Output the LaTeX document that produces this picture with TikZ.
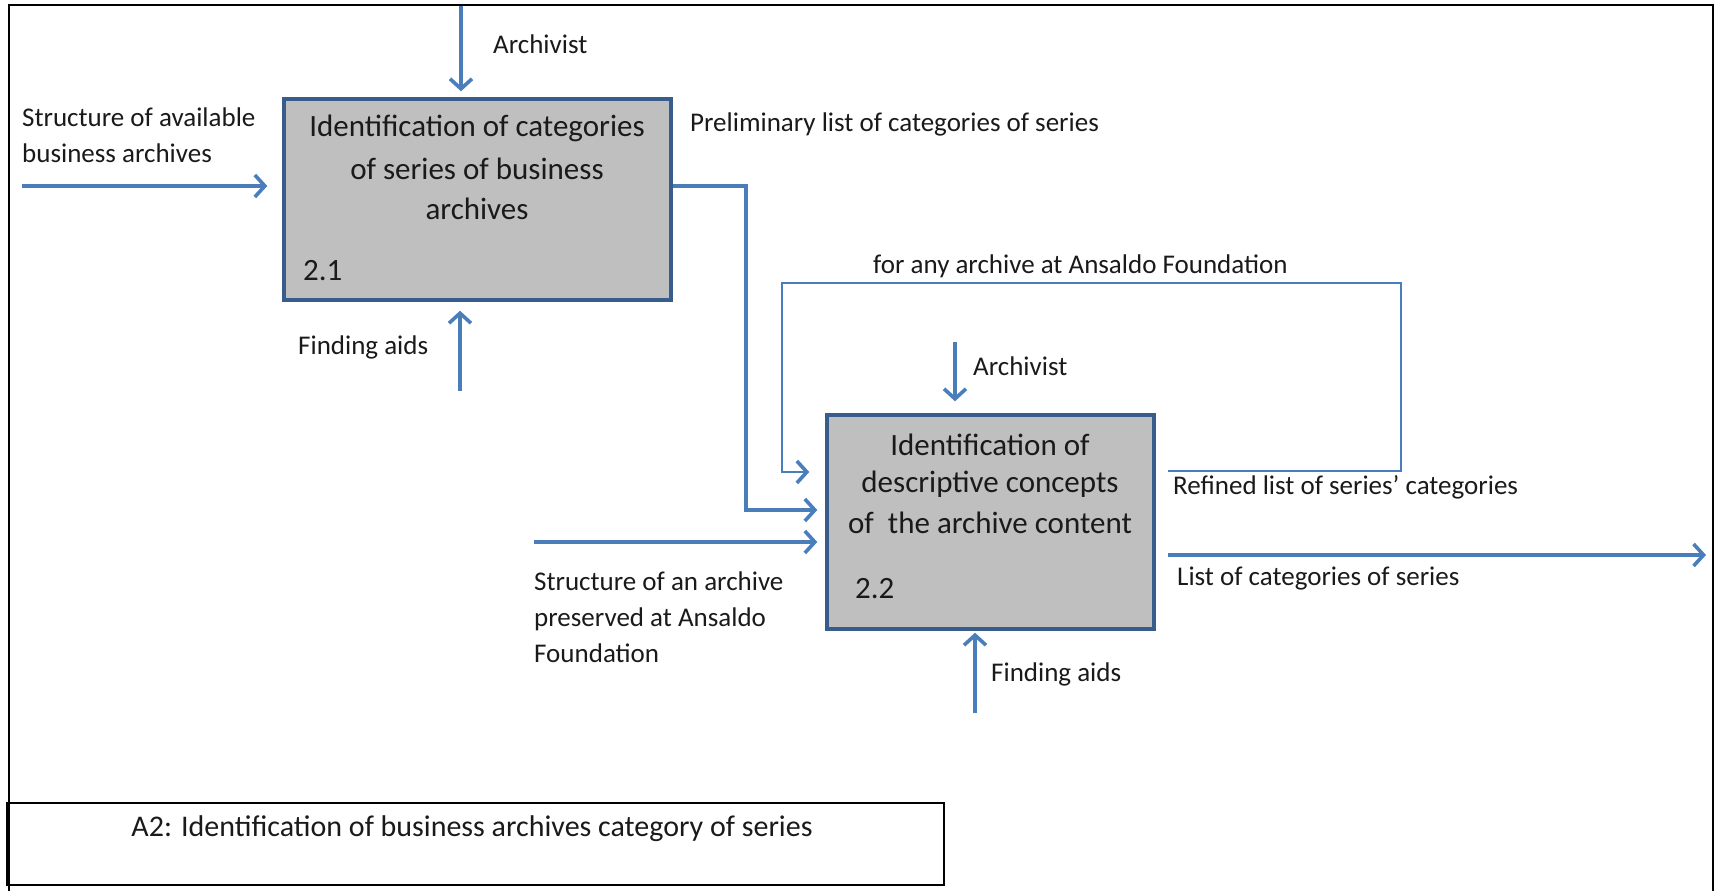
\documentclass[tikz,border=0pt]{standalone}
\usepackage{fontspec}
\setmainfont{Carlito}
\usetikzlibrary{arrows.meta}
\definecolor{flow}{HTML}{4A7EBB}
\definecolor{boxedge}{HTML}{385D8A}
\definecolor{boxfill}{HTML}{BFBFBF}
\definecolor{txt}{HTML}{1A1A1A}
\tikzset{
  flowline/.style={draw=flow, line width=3.4pt, -{Straight Barb[length=10pt,width=22pt,line width=3.6pt]}},
  thinflow/.style={draw=flow, line width=1.6pt, -{Straight Barb[length=10pt,width=22pt,line width=3.6pt]}},
  actbox/.style={draw=boxedge, fill=boxfill, line width=3.5pt, inner sep=0pt},
  boxtext/.style={font=\fontsize{31}{40}\selectfont, text=txt, align=center, inner sep=0pt},
  lbl/.style={font=\fontsize{27}{36}\selectfont, text=txt, anchor=west, inner sep=0pt},
  lbltwo/.style={font=\fontsize{27}{36}\selectfont, text=txt, anchor=north west, align=left, inner sep=0pt},
}
\begin{document}
\begin{tikzpicture}[x=1pt,y=-1pt]
\useasboundingbox (0,0) rectangle (1717,891);
% outer frame
\draw[line width=1.5pt] (9,891) -- (9,5) -- (1713,5) -- (1713,891);
% activity boxes
\node[actbox, minimum width=387pt, minimum height=201pt] (b1) at (477.5,199.5) {};
\node[actbox, minimum width=327pt, minimum height=214pt] (b2) at (990.5,522) {};
% box texts
\node[boxtext] (t1a) at (477,128) {Identification of categories};
\node[boxtext] (t1b) at (477,169) {of series of business};
\node[boxtext] (t1c) at (477,209) {archives};
\node[boxtext, anchor=west] (n1) at (303,271) {2.1};
\node[boxtext] (t2a) at (990,445) {Identification of};
\node[boxtext] (t2b) at (990,484) {descriptive concepts};
\node[boxtext] (t2c) at (990,523) {of \ the archive content};
\node[boxtext, anchor=west] (n2) at (855,589) {2.2};
% coordinates for free ends
\coordinate (archA) at (461,6);
\coordinate (inA) at (22,186);
\coordinate (findA) at (460,391);
\coordinate (bend1) at (746,186);
\coordinate (bend2) at (746,510);
\coordinate (archB) at (955,342);
\coordinate (findB) at (975,713);
\coordinate (inB) at (534,542);
\coordinate (outEnd) at (1706,555);
\coordinate (loopA) at (1401,471);
\coordinate (loopB) at (1401,283);
\coordinate (loopC) at (782,283);
\coordinate (loopD) at (782,472);
% connectors box 2.1
\draw[flowline, shorten >=6pt] (archA) -- (archA |- b1.north);
\draw[flowline, shorten >=15pt] (inA) -- (b1.west |- inA);
\draw[flowline, shorten >=9pt] (findA) -- (findA |- b1.south);
\draw[flowline, shorten >=8pt] (b1.east |- bend1) -- (bend1) -- (bend2) -- (b2.west |- bend2);
% connectors box 2.2
\draw[flowline, shorten >=12pt] (archB) -- (archB |- b2.north);
\draw[flowline, shorten >=2pt] (findB) -- (findB |- b2.south);
\draw[flowline, shorten >=8pt] (inB) -- (b2.west |- inB);
\draw[flowline, shorten <=12pt] (b2.east |- outEnd) -- (outEnd);
\draw[thinflow, shorten <=12pt, shorten >=16pt] (b2.east |- loopA) -- (loopA) -- (loopB) -- (loopC) -- (loopD) -- (b2.west |- loopD);
% labels
\node[lbl] (l1) at (493,44) {Archivist};
\node[lbltwo] (l2) at (22,108) {Structure of available\\business archives};
\node[lbl] (l3) at (298,347) {Finding aids};
\node[lbl] (l4) at (690,124) {Preliminary list of categories of series};
\node[lbl] (l5) at (873,266) {for any archive at Ansaldo Foundation};
\node[lbl] (l6) at (973,366) {Archivist};
\node[lbl] (l7) at (1173,487) {Refined list of series’ categories};
\node[lbl] (l8) at (1177,579) {List of categories of series};
\node[lbltwo] (l9) at (534,572) {Structure of an archive\\preserved at Ansaldo\\Foundation};
\node[lbl] (l10) at (991,674) {Finding aids};
% title box
\node[draw, line width=1.5pt, minimum width=937pt, minimum height=82pt, inner sep=0pt] (title) at (475.5,844) {};
\node[font=\fontsize{30}{36}\selectfont, text=txt, inner sep=0pt] (titletext) at (472,829) {A2: Identification of business archives category of series};
\end{tikzpicture}
\end{document}
